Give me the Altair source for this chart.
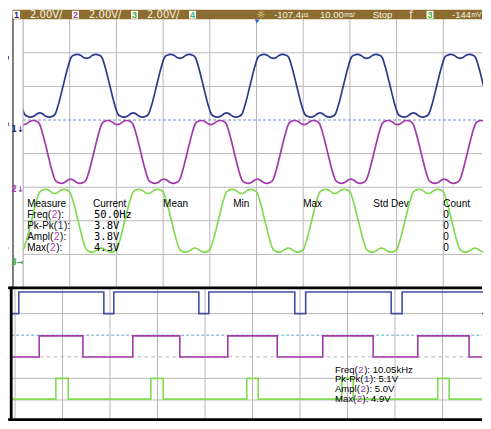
import altair as alt
import pandas as pd

# ---------------- values ----------------
# Upper screen (analog): 2.00 V/div, 10.00 ms/div, 10 x 8 divisions.
# One period of the flat-topped traces (all three have the same shape):
# phase in divisions relative to the centre of a top plateau, level in divisions
# relative to the middle of the trace.
SHAPE_PHASE = [-0.33, -0.27, -0.20, -0.12, -0.05, 0.00, 0.05, 0.12, 0.20, 0.27, 0.33,
               0.40, 0.50, 0.60,
               0.67, 0.73, 0.80, 0.88, 0.95, 1.00, 1.05, 1.12, 1.20, 1.27, 1.33,
               1.40, 1.50, 1.60]
SHAPE_LEVEL = [0.84, 0.91, 0.935, 0.90, 0.83, 0.815, 0.83, 0.90, 0.935, 0.91, 0.84,
               0.55, 0.00, -0.55,
               -0.84, -0.91, -0.935, -0.90, -0.83, -0.81, -0.83, -0.90, -0.935, -0.91, -0.84,
               -0.55, 0.00, 0.55]
ANALOG_CH = ["1", "2", "3"]
ANALOG_MID = [6.02, 4.05, 2.00]
ANALOG_TOP_CENTRES = [
    [-0.64, 1.36, 3.36, 5.36, 7.36, 9.36, 11.36],
    [-1.98, 0.02, 2.02, 4.02, 6.02, 8.02, 10.02],
    [-1.32, 0.68, 2.68, 4.68, 6.68, 8.68, 10.68],
]

# Lower screen (digital): edge times in divisions, levels in divisions
DIGITAL_CH = ["1", "2", "3"]
DIGITAL_LOW = [5.0, 2.99, 1.04]
DIGITAL_HIGH = [6.0, 3.97, 2.0]
DIGITAL_EDGES = [
    [0.08, 1.87, 2.08, 3.87, 4.08, 5.89, 6.12, 7.92, 8.15, 9.92],
    [0.51, 1.43, 2.48, 3.47, 4.48, 5.52, 6.48, 7.54, 8.48, 9.56],
    [0.86, 1.12, 2.86, 3.12, 4.88, 5.12, 6.88, 7.12, 8.90, 9.14],
]

HEADER_SCALE = ["2.00V/", "2.00V/", "2.00V/"]
HEADER_BOX = ["1", "2", "3", "4", "3"]
HEADER_NUM = ["-107.4", "10.00", "Stop", "-144"]
HEADER_UNIT = ["µs", "ms/", "mV"]

MEAS_HEAD = ["Measure", "Current", "Mean", "Min", "Max", "Std Dev", "Count"]
MEAS_NAME = ["Freq(", "Pk-Pk(", "Ampl(", "Max("]
MEAS_SRC = ["2", "1", "2", "2"]
MEAS_CURRENT = ["50.0Hz", "3.8V", "3.8V", "4.3V"]
MEAS_COUNT = ["0", "0", "0", "0"]
LOWER_VALUE = ["10.05kHz", "5.1V", "5.0V", "4.9V"]

# ---------------- style ----------------
BLUE = "#2c3a8e"
PURPLE = "#a23aac"
GREEN = "#82dc52"
LBLUE = "#3f4fa6"
CH_COL = {"1": "#1f2a7a", "2": PURPLE, "3": "#3cae3c", "4": "#2fb590"}
TRACE_COL = {"1": BLUE, "2": PURPLE, "3": GREEN}
GRID = "#b8b8b8"
BAR = "#8c6d2f"
HDR_TXT = "#f6f1e4"
SANS = "Liberation Sans"

W, H = 475, 413
UPX = 46.7   # pixels per division, upper screen
LPX = 47.5   # pixels per division, lower screen
U_END = (474 - 15) / UPX   # last division value that lies inside the drawing
L_END = (474 - 7) / LPX


def sc(domain, rng):
    return alt.Scale(domain=domain, range=rng, nice=False, zero=False)


UX = lambda: sc([0, 10], [15, 482])
UY = lambda: sc([0, 8], [280, 11.2])
LX = lambda: sc([0, 10], [7, 482])
LY = lambda: sc([0, 6], [413.6, 284])


def X(f, s):
    return alt.X(f"{f}:Q", scale=s, axis=None)


def Y(f, s):
    return alt.Y(f"{f}:Q", scale=s, axis=None)


def vrules(xs, y0, y1, sx, sy, color=GRID, width=1, dash=None):
    df = pd.DataFrame({"x": xs, "y0": y0, "y1": y1})
    kw = dict(color=color, strokeWidth=width)
    if dash:
        kw["strokeDash"] = dash
    return alt.Chart(df).mark_rule(**kw).encode(x=X("x", sx), y=Y("y0", sy), y2="y1:Q")


def hrules(ys, x0, x1, sx, sy, color=GRID, width=1, dash=None):
    df = pd.DataFrame({"y": ys, "x0": x0, "x1": x1})
    kw = dict(color=color, strokeWidth=width)
    if dash:
        kw["strokeDash"] = dash
    return alt.Chart(df).mark_rule(**kw).encode(y=Y("y", sy), x=X("x0", sx), x2="x1:Q")


def rect(x0, x1, y0, y1, sx, sy, **kw):
    df = pd.DataFrame({"x0": [x0], "x1": [x1], "y0": [y0], "y1": [y1]})
    return alt.Chart(df).mark_rect(**kw).encode(
        x=X("x0", sx), x2="x1:Q", y=Y("y0", sy), y2="y1:Q")


def texts(rows, sx, sy, size, font=SANS, align="left", weight="normal"):
    df = pd.DataFrame(rows, columns=["x", "y", "text", "color"])
    return alt.Chart(df).mark_text(
        align=align, baseline="middle", fontSize=size, font=font, fontWeight=weight
    ).encode(x=X("x", sx), y=Y("y", sy), text="text:N",
             color=alt.Color("color:N", scale=None))


EM = {'F': .611, 'r': .333, 'e': .556, 'q': .556, '(': .333, ')': .333, ' ': .278,
      ':': .278, 'P': .667, 'k': .5, '-': .333, 'A': .667, 'm': .833, 'p': .556,
      'l': .222, 'M': .833, 'a': .556, 'x': .5, '.': .278, '/': .278, 'V': .667}


def width(s, size):
    return sum(EM.get(c, .556) for c in s) * size


# ---------------- tables ----------------
up_rows = []
for ch, mid, centres in zip(ANALOG_CH, ANALOG_MID, ANALOG_TOP_CENTRES):
    i = 0
    for c in centres:
        for p, lv in zip(SHAPE_PHASE, SHAPE_LEVEL):
            t = c + p
            if -0.45 <= t <= 10.45:
                up_rows.append({"ch": ch, "t": round(t, 3), "v": mid + lv, "i": i,
                                "color": TRACE_COL[ch]})
                i += 1
up_df = pd.DataFrame(up_rows)

lo_rows = []
for ch, lo, hi, edges in zip(DIGITAL_CH, DIGITAL_LOW, DIGITAL_HIGH, DIGITAL_EDGES):
    col = {"1": LBLUE, "2": PURPLE, "3": GREEN}[ch]
    level = lo
    pts = [(-0.08, level)]
    for e in edges:
        pts.append((e, level))
        level = hi if level == lo else lo
        pts.append((e, level))
    pts.append((L_END, level))
    for i, (t, v) in enumerate(pts):
        lo_rows.append({"ch": ch, "t": t, "v": v, "i": i, "color": col})
lo_df = pd.DataFrame(lo_rows)

layers = []

# ---- upper screen grid ----
layers.append(vrules(list(range(10)), 0, 8, UX(), UY()))
layers.append(hrules([1, 2, 3, 4, 6, 7], 0, U_END, UX(), UY()))
layers.append(hrules([5], 0, U_END, UX(), UY(), color="#6d8ec8", dash=[3, 2]))

# ---- analog traces ----
layers.append(alt.Chart(up_df).mark_line(interpolate="monotone", strokeWidth=1.7).encode(
    x=X("t", UX()), y=Y("v", UY()), detail="ch:N", order="i:Q",
    color=alt.Color("color:N", scale=None)))

# left strip mask, frame line and channel markers
layers.append(rect(-0.3, 0, 0, 8, UX(), UY(), color="white"))
layers.append(vrules([0], 0, 8, UX(), UY()))
layers.append(vrules([-0.214], 0, 8.05, UX(), UY(), color="#555555", width=1.5))
layers.append(texts([(-0.118, 4.70, "1↓", CH_COL["1"]),
                     (-0.118, 2.92, "2↓", PURPLE),
                     (-0.118, 0.74, "3→", "#3cae3c")], UX(), UY(), 8, align="center",
                    font="DejaVu Sans", weight="bold"))

# ---- measurement table (upper) ----
col_x = [0.09, 1.5, 3.0, 4.5, 6.0, 7.5, 9.0]
row_y = [2.176, 1.851, 1.527, 1.202]
rows = [(x, 2.5, t, "black") for x, t in zip(col_x, MEAS_HEAD)]
for y, name, src in zip(row_y, MEAS_NAME, MEAS_SRC):
    xd = 0.09 + (width(name, 10) + 0.6) / UPX
    rows.append((0.09, y, name, "black"))
    rows.append((xd, y, src, CH_COL[src]))
    rows.append((xd + (width(src, 10) + 0.6) / UPX, y, " ):", "black"))
for y, c in zip(row_y, MEAS_COUNT):
    rows.append((9.0, y, c, "black"))
layers.append(texts(rows, UX(), UY(), 10))
layers.append(texts([(1.52, y, v, "black") for y, v in zip(row_y, MEAS_CURRENT)],
                    UX(), UY(), 10.5, font="DejaVu Sans Mono"))

# ---- header bar ----
layers.append(rect(-0.225, U_END, 7.995, 8.28, UX(), UY(), color=BAR))
box_x = [-0.139, 1.124, 2.388, 3.63, 8.715]
for bx in box_x:
    layers.append(rect(bx - 0.075, bx + 0.075, 8.015, 8.25, UX(), UY(), color="white"))
layers.append(texts([(bx, 8.13, t, CH_COL[t]) for bx, t in zip(box_x, HEADER_BOX)],
                    UX(), UY(), 9, align="center", weight="bold"))
layers.append(texts([(x, 8.13, t, HDR_TXT) for x, t in zip([0.15, 1.413, 2.655], HEADER_SCALE)],
                    UX(), UY(), 10, font="DejaVu Sans"))
num_x = [5.375, 6.36, 7.49, 9.186]
layers.append(texts([(x, 8.13, t, HDR_TXT) for x, t in zip(num_x, HEADER_NUM)],
                    UX(), UY(), 9.5))
unit_x = [num_x[i] + (width(HEADER_NUM[i], 9.5) + 0.5) / UPX for i in (0, 1, 3)]
layers.append(texts([(x, 8.13, t, HDR_TXT) for x, t in zip(unit_x, HEADER_UNIT)],
                    UX(), UY(), 6.5))
layers.append(texts([(5.096, 8.13, "☼", "#f3e3a0"), (8.31, 8.13, "ƒ", HDR_TXT)],
                    UX(), UY(), 10, font="DejaVu Sans", align="center"))
layers.append(alt.Chart(pd.DataFrame({"x": [5.01], "y": [7.93]})).mark_point(
    shape="triangle-down", filled=True, size=22, color="#2a62c4", opacity=1).encode(
    x=X("x", UX()), y=Y("y", UY())))

# ---- lower screen ----
layers.append(rect(-0.3, L_END, -0.5, 6.19, LX(), LY(), color="white"))
layers.append(vrules(list(range(10)), 0.1, 6.19, LX(), LY()))
layers.append(hrules([1, 2, 5], -0.08, L_END, LX(), LY()))
layers.append(hrules([3], -0.08, L_END, LX(), LY(), dash=[4, 3]))
layers.append(hrules([4], -0.08, L_END, LX(), LY(), color="#6aa7b0", dash=[3, 2]))
layers.append(alt.Chart(lo_df).mark_line(strokeWidth=1.6).encode(
    x=X("t", LX()), y=Y("v", LY()), detail="ch:N", order="i:Q",
    color=alt.Color("color:N", scale=None)))

lrow_y = [2.389, 1.95, 1.509, 1.069]
rows = []
for y, name, src, val in zip(lrow_y, MEAS_NAME, MEAS_SRC, LOWER_VALUE):
    xd = 6.737 + (width(name, 9.5) + 0.6) / LPX
    rows.append((6.737, y, name, "black"))
    rows.append((xd, y, src, CH_COL[src]))
    rows.append((xd + (width(src, 9.5) + 0.6) / LPX, y, " ): " + val, "black"))
layers.append(texts(rows, LX(), LY(), 9.5))

# frame of the lower screen: top, bottom and left edges only
layers.append(hrules([6.19, 0.093], -0.145, L_END, LX(), LY(), color="black", width=2.8))
layers.append(vrules([-0.08], 0.03, 6.25, LX(), LY(), color="black", width=2.8))

chart = alt.layer(*layers).resolve_scale(
    x="independent", y="independent", color="independent"
).properties(
    width=W, height=H, padding=0, background="white",
    autosize=alt.AutoSizeParams(type="none"),
).configure_view(strokeWidth=0)

chart.save("out.html", embed_options={"renderer": "svg", "actions": False})
